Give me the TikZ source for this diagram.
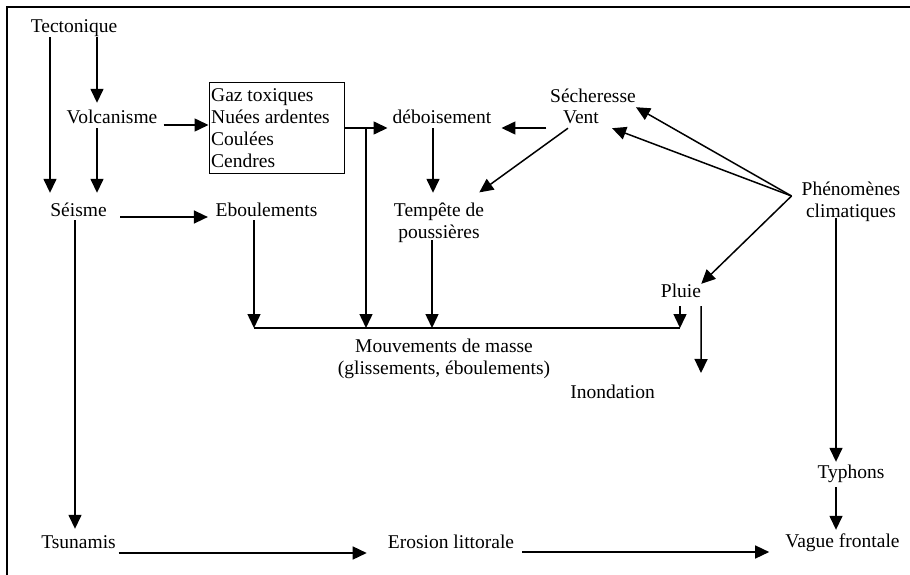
\documentclass[tikz,border=0pt]{standalone}
\usepackage{fontspec}
\setmainfont{Liberation Serif}
\usetikzlibrary{arrows.meta}
% multi-line label, baseline on its first line
\newcommand\mlines[2][c]{\begin{tabular}[t]{@{}#1@{}}#2\end{tabular}}
\begin{document}
\begin{tikzpicture}[x=1pt,y=-1pt,
  every node/.style={inner sep=0pt, font=\fontsize{19.5}{22}\selectfont},
  lbl/.style={anchor=base, text height=13pt, text depth=4pt},
  multi/.style={anchor=base},
  arr/.style={line width=1.5pt, -{Triangle[length=14pt,width=13pt]}},
  link/.style={line width=1.5pt},
  frame/.style={line width=1.2pt}]
\useasboundingbox (0,0) rectangle (910,575);
\fill[white] (0,0) rectangle (910,575);
\draw[frame] (910,7) -- (7,7) -- (7,575);

% labels
\node[lbl] (tect) at (74,33) {Tectonique};
\node[lbl] (volc) at (112,124) {Volcanisme};
\node[lbl] (seisme) at (78.5,216) {Séisme};
\node[lbl] (eboul) at (266.5,216) {Eboulements};
\node[draw, line width=1pt, minimum width=135pt, minimum height=90pt] (box) at (276.5,128) {};
\node[anchor=base west] (boxtxt) at (211,102) {\mlines[l]{Gaz toxiques\\Nuées ardentes\\Coulées\\Cendres}};
\node[lbl] (debois) at (442,124) {déboisement};
\node[lbl] (secher) at (593,103) {Sécheresse};
\node[lbl] (vent) at (581,124) {Vent};
\node[multi] (temp) at (439,216) {\mlines{Tempête de\\poussières}};
\node[multi] (phen) at (851,195) {\mlines{Phénomènes\\climatiques}};
\node[lbl] (pluie) at (681,297) {Pluie};
\node[multi] (mouv) at (444,352) {\mlines{Mouvements de masse\\(glissements, éboulements)}};
\node[lbl] (inond) at (612.5,398) {Inondation};
\node[lbl] (typh) at (851,478) {Typhons};
\node[lbl] (tsu) at (78.5,548) {Tsunamis};
\node[lbl] (eros) at (451,548) {Erosion littorale};
\node[lbl] (vague) at (842.5,547) {Vague frontale};

% junctions
\coordinate (barL) at (254,328);
\coordinate (barR) at (680,328);
\coordinate (j1) at (366,128);
\coordinate (fan) at ([xshift=-10pt,yshift=-1pt]phen.base west);
\coordinate (inondIn) at (701,373);

% tectonic branch
\draw[arr, shorten >=10pt] (tect.south -| 50,0) -- (seisme.north -| 50,0);
\draw[arr, shorten >=8pt] (tect.south -| 97,0) -- (volc.north -| 97,0);
\draw[arr, shorten >=10pt] (volc.south -| 97,0) -- (seisme.north -| 97,0);
\draw[arr, shorten <=6pt] (volc.east |- 0,125) -- (box.west |- 0,125);
\draw[arr, shorten <=13.5pt, shorten >=7.5pt] (seisme.east |- 0,217) -- (eboul.west |- 0,217);
\draw[arr, shorten >=6pt] (seisme.south -| 75,0) -- (tsu.north -| 75,0);

% volcanic products
\draw[link] (box.east) -- (j1);
\draw[arr, shorten >=5pt] (j1) -- (j1 -| debois.west);
\draw[arr] (j1) -- (j1 |- barL);

% mass movements
\draw[link] (barL) -- (barR);
\draw[arr] (eboul.south -| barL) -- (barL);
\draw[arr, shorten >=7.6pt] (debois.south -| 433,0) -- (temp.north -| 433,0);
\draw[arr, shorten <=-4.6pt] (temp.south -| 432,0) -- (barL -| 432,0);
\draw[arr, shorten <=5pt] (pluie.south -| barR) -- (barR);
\draw[arr, shorten <=5pt] (pluie.south east) -- (inondIn);

% climatic branch
\draw[arr, shorten <=16.5pt, shorten >=10pt] (vent.west |- j1) -- (debois.east |- j1);
\draw[arr] ([xshift=-13pt]vent.south) -- ([xshift=-5pt,yshift=8pt]temp.north east);
\draw[arr] (fan) -- (secher.south east);
\draw[arr] (fan) -- ([xshift=13pt]vent.south east);
\draw[arr] (fan) -- (pluie.north east);
\draw[arr, shorten <=-6pt, shorten >=3pt] (phen.south -| 836,0) -- (typh.north -| 836,0);
\draw[arr, shorten <=5pt, shorten >=4pt] (typh.south -| 836,0) -- (vague.north -| 836,0);

% coastal effects
\draw[arr, shorten <=2.6pt, shorten >=21pt] (tsu.east |- 0,553) -- (eros.west |- 0,553);
\draw[arr, shorten <=8pt, shorten >=16pt] (eros.east |- 0,552) -- (vague.west |- 0,552);
\end{tikzpicture}
\end{document}
